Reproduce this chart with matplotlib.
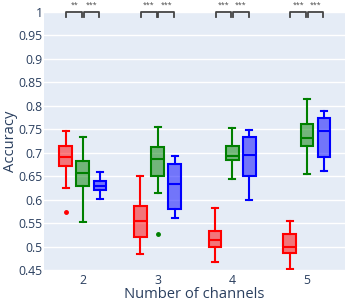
import numpy as np
import matplotlib.pyplot as plt

plt.rcParams['font.family'] = ['Open Sans', 'DejaVu Sans']

channels = [2, 3, 4, 5]

# box stats per series: low whisker, q1, median, q3, high whisker
red_lo = [0.624, 0.484, 0.468, 0.453]
red_q1 = [0.672, 0.521, 0.498, 0.487]
red_med = [0.691, 0.554, 0.515, 0.498]
red_q3 = [0.714, 0.586, 0.534, 0.526]
red_hi = [0.746, 0.651, 0.583, 0.554]
red_out = [[0.573], [], [], []]

green_lo = [0.553, 0.615, 0.643, 0.654]
green_q1 = [0.629, 0.651, 0.684, 0.714]
green_med = [0.657, 0.687, 0.694, 0.732]
green_q3 = [0.683, 0.713, 0.714, 0.761]
green_hi = [0.733, 0.754, 0.752, 0.814]
green_out = [[], [0.526], [], []]

blue_lo = [0.601, 0.560, 0.599, 0.661]
blue_q1 = [0.620, 0.581, 0.650, 0.690]
blue_med = [0.629, 0.634, 0.695, 0.747]
blue_q3 = [0.640, 0.676, 0.734, 0.775]
blue_hi = [0.658, 0.693, 0.749, 0.788]
blue_out = [[], [], [], []]

sig_left = ['**', '***', '***', '***']
sig_right = ['***', '***', '***', '***']

series = [
    ('#FF0000', -0.23, red_lo, red_q1, red_med, red_q3, red_hi, red_out),
    ('#008000', 0.0, green_lo, green_q1, green_med, green_q3, green_hi, green_out),
    ('#0000FF', 0.23, blue_lo, blue_q1, blue_med, blue_q3, blue_hi, blue_out),
]

txt = '#2a3f5f'
fig = plt.figure(figsize=(3.53, 3.03), dpi=100)
ax = fig.add_axes([44 / 353, 33 / 303, 301 / 353, 258 / 303])
ax.set_facecolor('#E5ECF6')

for col, off, lo, q1, med, q3, hi, out in series:
    stats = []
    for i in range(len(channels)):
        stats.append(dict(whislo=lo[i], q1=q1[i], med=med[i], q3=q3[i],
                          whishi=hi[i], fliers=out[i]))
    pos = [c + off for c in channels]
    bp = ax.bxp(stats, positions=pos, widths=0.17, capwidths=0.08, patch_artist=True,
                boxprops=dict(facecolor=col, edgecolor=col, linewidth=1.5),
                medianprops=dict(color=col, linewidth=1.5),
                whiskerprops=dict(color=col, linewidth=1.5),
                capprops=dict(color=col, linewidth=1.5),
                flierprops=dict(marker='o', markersize=2.5, markerfacecolor=col,
                                markeredgecolor=col),
                zorder=3)
    for b in bp['boxes']:
        b.set_facecolor((*plt.matplotlib.colors.to_rgb(col), 0.5))

# significance brackets above the plot
for i, c in enumerate(channels):
    for a, b, lab in [(c - 0.23, c, sig_left[i]), (c, c + 0.23, sig_right[i])]:
        ax.plot([a + 0.01, a + 0.01, b - 0.01, b - 0.01], [0.989, 1.0, 1.0, 0.989],
                color='#444444', lw=1.3, clip_on=False, zorder=5)
        ax.text((a + b) / 2, 1.006, lab, ha='center', va='bottom', fontsize=5,
                color='#444444', clip_on=False)

ax.set_xlim(1.48, 5.51)
ax.set_ylim(0.45, 1.0)
ax.set_xticks(channels)
ax.set_xticklabels([str(c) for c in channels])
yt = np.arange(0.45, 1.001, 0.05)
ax.set_yticks(yt)
ax.set_yticklabels(['0.45', '0.5', '0.55', '0.6', '0.65', '0.7', '0.75', '0.8',
                    '0.85', '0.9', '0.95', '1'])
ax.grid(axis='y', color='white', linewidth=1, zorder=0)
ax.set_axisbelow(True)
for s in ax.spines.values():
    s.set_visible(False)
ax.tick_params(axis='y', length=0, labelsize=8.8, colors=txt, pad=1)
ax.tick_params(axis='x', length=0, labelsize=8.8, colors=txt, pad=3)
ax.set_xlabel('Number of channels', fontsize=10.6, color=txt)
ax.set_ylabel('Accuracy', fontsize=10.6, color=txt)
ax.xaxis.set_label_coords(0.5, -24 / 258)
ax.xaxis.label.set_va('center')
ax.yaxis.set_label_coords(-34 / 301, 0.5)
ax.yaxis.label.set_va('center')

fig.savefig('out.png', dpi=100)
